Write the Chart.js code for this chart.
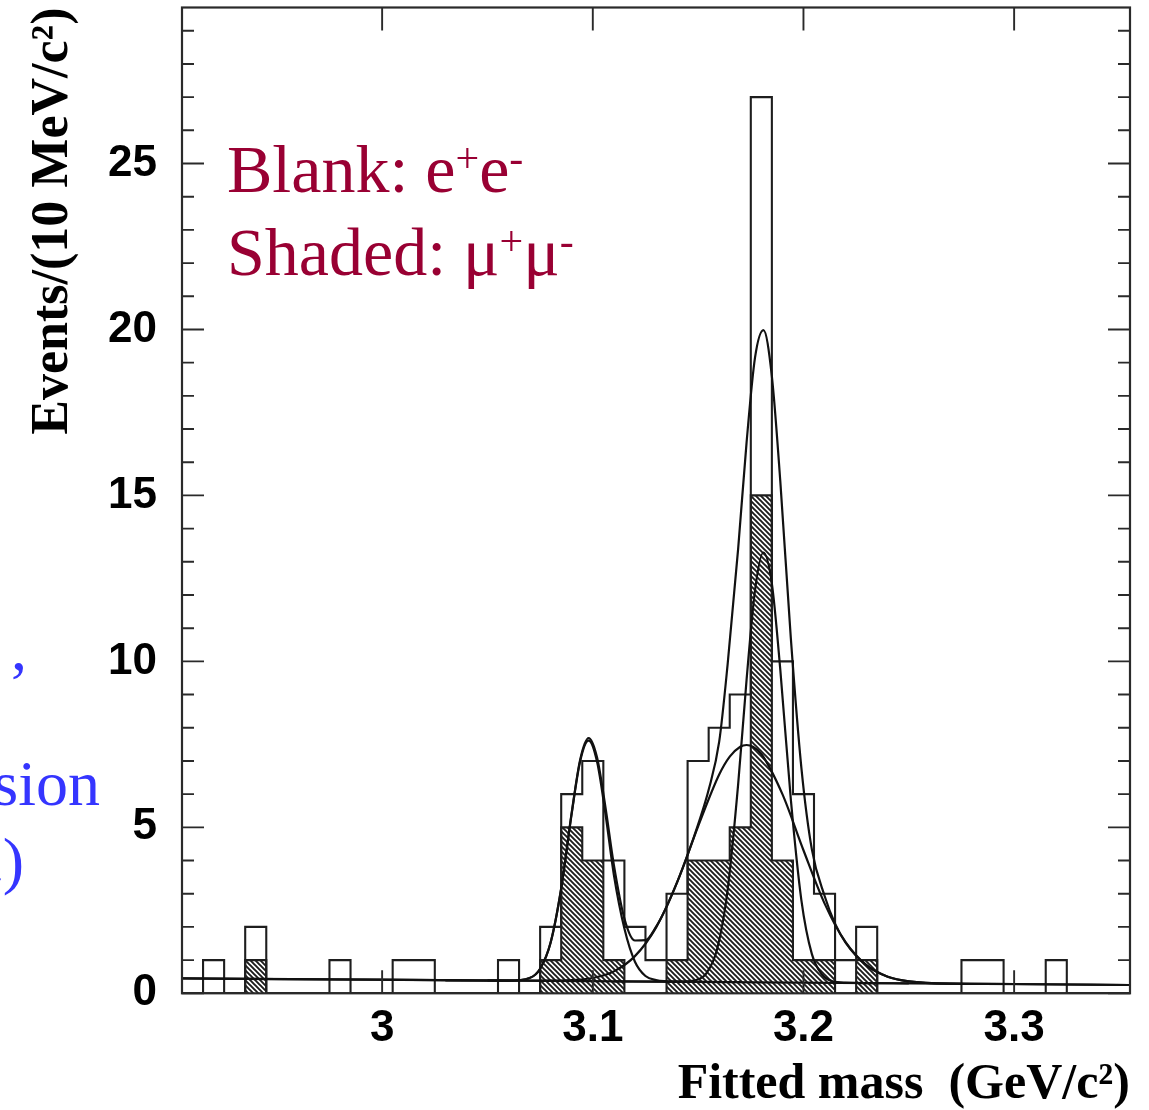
<!DOCTYPE html>
<html>
<head>
<meta charset="utf-8">
<title>Fitted mass</title>
<script src="https://cdn.jsdelivr.net/npm/chart.js@4.4.0/dist/chart.umd.min.js"></script>
<style>
  html, body { margin: 0; padding: 0; background: #fff; }
  canvas { display: block; }
</style>
</head>
<body>
<canvas id="massChart" width="1149" height="1110"></canvas>
<script>
// HISTOGRAM (10 MeV bins)
const binWidth = 0.01;
const binCenters = [
  2.91, 2.92, 2.93, 2.94, 2.95, 2.96, 2.97, 2.98, 2.99, 3.00,
  3.01, 3.02, 3.03, 3.04, 3.05, 3.06, 3.07, 3.08, 3.09, 3.10,
  3.11, 3.12, 3.13, 3.14, 3.15, 3.16, 3.17, 3.18, 3.19, 3.20,
  3.21, 3.22, 3.23, 3.24, 3.25, 3.26, 3.27, 3.28, 3.29, 3.30,
  3.31, 3.32, 3.33, 3.34, 3.35
];
// blank = all events (e+e- on top of mu+mu-)
const blankCounts = [
  0, 1, 0, 2, 0, 0, 0, 1, 0, 0,
  1, 1, 0, 0, 0, 1, 0, 2, 6, 7,
  4, 2, 1, 3, 7, 8, 9, 27, 10, 6,
  3, 1, 2, 0, 0, 0, 0, 1, 1, 0,
  0, 1, 0, 0, 0
];
const shadedCounts = [
  0, 0, 0, 1, 0, 0, 0, 0, 0, 0,
  0, 0, 0, 0, 0, 0, 0, 1, 5, 4,
  1, 0, 0, 1, 4, 4, 5, 15, 4, 1,
  1, 0, 1, 0, 0, 0, 0, 0, 0, 0,
  0, 0, 0, 0, 0
];

// FIT CURVES
const totalX = [2.905, 2.95, 3.0, 3.04, 3.06, 3.07, 3.075, 3.08, 3.085, 3.09,
  3.094, 3.098, 3.102, 3.106, 3.11, 3.115, 3.12, 3.125, 3.13, 3.135,
  3.14, 3.145, 3.15, 3.155, 3.16, 3.164, 3.169, 3.173, 3.177, 3.181,
  3.185, 3.189, 3.194, 3.199, 3.204, 3.21, 3.215, 3.22, 3.23, 3.24,
  3.25, 3.27, 3.3, 3.355];
const totalY = [0.45, 0.43, 0.41, 0.39, 0.38, 0.46, 0.74, 1.54, 3.17, 5.45,
  7.04, 7.69, 7.11, 5.61, 3.87, 2.25, 1.59, 1.6, 2.0, 2.6,
  3.34, 4.17, 5.09, 6.13, 7.58, 9.91, 13.4, 16.6, 19.15, 19.98,
  18.59, 15.43, 10.7, 6.8, 4.33, 2.94, 2.1, 1.54, 0.84, 0.5,
  0.36, 0.29, 0.28, 0.25];

const peak1X = [3.03, 3.06, 3.07, 3.075, 3.08, 3.085, 3.09, 3.094, 3.098, 3.102,
  3.106, 3.11, 3.115, 3.12, 3.125, 3.13, 3.14, 3.17];
const peak1Y = [0.39, 0.38, 0.46, 0.74, 1.53, 3.15, 5.42, 6.99, 7.61, 6.98,
  5.41, 3.57, 1.95, 0.95, 0.52, 0.4, 0.35, 0.34];

const broadX = [3.05, 3.08, 3.09, 3.1, 3.11, 3.12, 3.13, 3.14, 3.15, 3.16,
  3.165, 3.17, 3.173, 3.176, 3.18, 3.19, 3.2, 3.21, 3.22, 3.23,
  3.24, 3.25, 3.27, 3.3];
const broadY = [0.39, 0.38, 0.4, 0.46, 0.66, 1.12, 1.98, 3.34, 5.03, 6.59,
  7.13, 7.43, 7.48, 7.43, 7.21, 6.0, 4.31, 2.71, 1.53, 0.84,
  0.5, 0.36, 0.29, 0.28];

const narrowX = [3.11, 3.14, 3.149, 3.154, 3.159, 3.164, 3.169, 3.173, 3.177, 3.181,
  3.185, 3.189, 3.194, 3.199, 3.204, 3.209, 3.214, 3.22, 3.25];
const narrowY = [0.36, 0.35, 0.4, 0.61, 1.33, 3.11, 6.3, 9.45, 12.14, 13.28,
  12.34, 9.75, 5.84, 2.81, 1.18, 0.55, 0.36, 0.32, 0.3];

const bgX = [2.905, 3.355];
const bgY = [0.45, 0.25];

// AXES
const xTickValues = [3.0, 3.1, 3.2, 3.3];
const xTickLabels = ["3", "3.1", "3.2", "3.3"];
const yTickValues = [0, 5, 10, 15, 20, 25];
const yTickLabels = ["0", "5", "10", "15", "20", "25"];

function stepPoints(counts) {
  const pts = binCenters.map((c, i) => ({ x: c - binWidth / 2, y: counts[i] }));
  const last = binCenters.length - 1;
  pts.push({ x: binCenters[last] + binWidth / 2, y: counts[last] });
  return pts;
}

function toPoints(xs, ys) {
  return xs.map((x, i) => ({ x: x, y: ys[i] }));
}

function makeHatch() {
  const c = document.createElement("canvas");
  c.width = 5;
  c.height = 5;
  const g = c.getContext("2d");
  g.fillStyle = "#fff";
  g.fillRect(0, 0, 5, 5);
  g.strokeStyle = "#1c1c1c";
  g.lineWidth = 1.9;
  g.beginPath();
  g.moveTo(-1, -1); g.lineTo(6, 6);
  g.moveTo(-1, 4); g.lineTo(1, 6);
  g.moveTo(4, -1); g.lineTo(6, 1);
  g.stroke();
  return g.createPattern(c, "repeat");
}

function curve(xs, ys) {
  return {
    data: toPoints(xs, ys),
    borderColor: "#111",
    borderWidth: 2.2,
    pointRadius: 0,
    fill: false,
    cubicInterpolationMode: "monotone",
  };
}

// frame + inward ticks on all four sides
const frameTicks = {
  id: "frameTicks",
  afterDatasetsDraw(chart) {
    const { ctx, chartArea: a, scales } = chart;
    const x = scales.x, y = scales.y;
    ctx.save();
    ctx.strokeStyle = "#2a2a2a";
    ctx.lineWidth = 2.2;
    ctx.strokeRect(a.left, a.top, a.right - a.left, a.bottom - a.top);
    ctx.lineWidth = 1.9;
    ctx.beginPath();
    for (let v = 0; v <= 29; v++) {
      const py = y.getPixelForValue(v);
      const len = v % 5 === 0 ? 22 : 12;
      ctx.moveTo(a.left, py); ctx.lineTo(a.left + len, py);
      ctx.moveTo(a.right, py); ctx.lineTo(a.right - len, py);
    }
    xTickValues.forEach((v) => {
      const px = x.getPixelForValue(v);
      ctx.moveTo(px, a.bottom); ctx.lineTo(px, a.bottom - 23);
      ctx.moveTo(px, a.top); ctx.lineTo(px, a.top + 23);
    });
    ctx.stroke();
    ctx.restore();
  },
};

// text with superscripts
function drawRich(ctx, parts, x, y, size, color) {
  ctx.fillStyle = color;
  ctx.textBaseline = "alphabetic";
  ctx.textAlign = "left";
  parts.forEach((p) => {
    if (p.sup) {
      ctx.font = Math.round(size * 0.62) + "px 'Liberation Serif'";
      ctx.fillText(p.t, x, y - size * 0.3);
    } else {
      ctx.font = size + "px 'Liberation Serif'";
      ctx.fillText(p.t, x, y);
    }
    x += ctx.measureText(p.t).width;
  });
}

const notes = {
  id: "notes",
  afterDraw(chart) {
    const ctx = chart.ctx;
    ctx.save();
    const red = "#990033";
    drawRich(ctx, [{ t: "Blank: e" }, { t: "+", sup: true }, { t: "e" }, { t: "-", sup: true }], 227, 192, 68, red);
    drawRich(ctx, [{ t: "Shaded: \u03bc" }, { t: "+", sup: true }, { t: "\u03bc" }, { t: "-", sup: true }], 227, 275, 68, red);

    // cut-off text on the left edge
    ctx.fillStyle = "#3535ff";
    ctx.font = "64px 'Liberation Serif'";
    ctx.textAlign = "right";
    ctx.fillText("o ,", 27, 670);
    ctx.fillText("sion", 100, 805);
    ctx.fillText("c)", 24, 882);
    ctx.restore();
  },
};

const tickFont = { family: "'Liberation Sans', Arial", weight: "bold", size: 44 };
const titleFont = { family: "'Liberation Serif', 'Times New Roman'", weight: "bold", size: 50, lineHeight: 1 };

new Chart(document.getElementById("massChart"), {
  type: "line",
  data: {
    datasets: [
      curve(totalX, totalY),
      curve(peak1X, peak1Y),
      curve(broadX, broadY),
      curve(narrowX, narrowY),
      curve(bgX, bgY),
      {
        data: stepPoints(blankCounts),
        stepped: true,
        borderColor: "#1e1e1e",
        borderWidth: 2.1,
        pointRadius: 0,
        fill: false,
      },
      {
        data: stepPoints(shadedCounts),
        stepped: true,
        borderColor: "#1e1e1e",
        borderWidth: 2.1,
        pointRadius: 0,
        backgroundColor: makeHatch(),
        fill: "origin",
      },
    ],
  },
  options: {
    responsive: false,
    animation: false,
    devicePixelRatio: 1,
    layout: { padding: { left: 0, right: 19, top: 7.5, bottom: 0 } },
    plugins: { legend: { display: false }, tooltip: { enabled: false } },
    scales: {
      x: {
        type: "linear",
        min: 2.905,
        max: 3.355,
        grid: { display: false, drawTicks: false },
        border: { display: false },
        afterBuildTicks: (s) => { s.ticks = xTickValues.map((v) => ({ value: v })); },
        afterFit: (s) => {
          s.height = 116.7;
          s.paddingLeft = 0;
          s.paddingRight = 0;
        },
        ticks: {
          callback: (v, i) => xTickLabels[i],
          color: "#000",
          font: tickFont,
          padding: 9,
          maxRotation: 0,
          autoSkip: false,
        },
        title: {
          display: true,
          text: "Fitted mass  (GeV/c\u00b2)",
          align: "end",
          color: "#000",
          font: titleFont,
          padding: { top: 0, bottom: 0 },
        },
      },
      y: {
        type: "linear",
        min: 0,
        max: 29.7,
        grid: { display: false, drawTicks: false },
        border: { display: false },
        afterBuildTicks: (s) => { s.ticks = yTickValues.map((v) => ({ value: v })); },
        afterFit: (s) => {
          s.width = 182;
          s.paddingTop = 0;
          s.paddingBottom = 0;
        },
        ticks: {
          callback: (v, i) => yTickLabels[i],
          color: "#000",
          font: tickFont,
          padding: 25,
          autoSkip: false,
        },
        title: {
          display: true,
          text: "Events/(10 MeV/c\u00b2)",
          align: "end",
          color: "#000",
          font: { family: "'Liberation Serif', 'Times New Roman'", weight: "bold", size: 52, lineHeight: 1 },
          padding: { top: 28, bottom: 0 },
        },
      },
    },
  },
  plugins: [frameTicks, notes],
});
</script>
</body>
</html>
